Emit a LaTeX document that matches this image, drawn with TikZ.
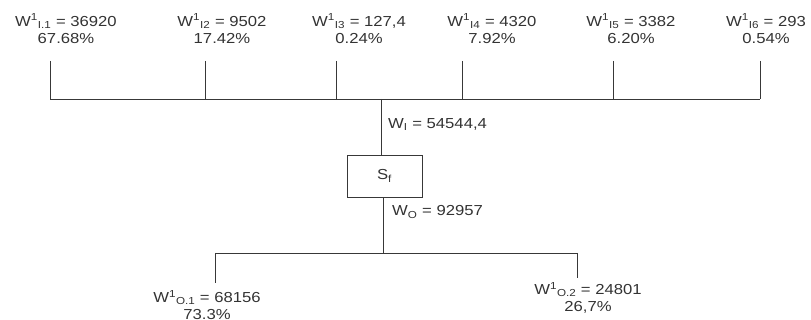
\documentclass[tikz,border=0pt]{standalone}
\usepackage{fontspec}
\setmainfont{Liberation Sans}[FakeStretch=1.15]
\begin{document}
\begin{tikzpicture}[x=1pt,y=-1pt,
  line/.style={draw=black!78, line width=0.9pt},
  lbl/.style={font=\fontsize{14.5}{17}\selectfont, text=black!80, align=center, inner sep=0pt},
  lbll/.style={font=\fontsize{14.5}{17}\selectfont, text=black!80, anchor=west, inner sep=0pt},
  boxst/.style={draw=black!78, line width=0.9pt, minimum width=75pt, minimum height=42pt, inner sep=0pt,
    font=\fontsize{14.5}{17}\selectfont, text=black!80}]
\useasboundingbox (0,0) rectangle (811,320);
% top labels
\node[lbl] (t1) at (66,28.5) {W\textsuperscript{1}\textsubscript{I.1} = 36920\\67.68\%};
\node[lbl] (t2) at (222,28.5) {W\textsuperscript{1}\textsubscript{I2} = 9502\\17.42\%};
\node[lbl] (t3) at (359,28.5) {W\textsuperscript{1}\textsubscript{I3} = 127,4\\0.24\%};
\node[lbl] (t4) at (492,28.5) {W\textsuperscript{1}\textsubscript{I4} = 4320\\7.92\%};
\node[lbl] (t5) at (631,28.5) {W\textsuperscript{1}\textsubscript{I5} = 3382\\6.20\%};
\node[lbl] (t6) at (766,28.5) {W\textsuperscript{1}\textsubscript{I6} = 293\\0.54\%};
% top bus
\coordinate (u1) at (50,61);  \coordinate (b1) at (50,99);
\coordinate (u2) at (205,61); \coordinate (b2) at (205,99);
\coordinate (u3) at (336,61); \coordinate (b3) at (336,99);
\coordinate (u4) at (462,61); \coordinate (b4) at (462,99);
\coordinate (u5) at (613,61); \coordinate (b5) at (613,99);
\coordinate (u6) at (760,61); \coordinate (b6) at (760,99);
\coordinate (bc) at (381,99);
\draw[line] (b1) -- (b6);
\foreach \i in {1,...,6} {\draw[line] (u\i) -- (b\i);}
% box
\node[boxst] (sf) at (384.5,176) {S\textsubscript{f}};
\draw[line] (bc) -- (bc |- sf.north);
\node[lbll] (wi) at (388,124.5) {W\textsubscript{I} = 54544,4};
\coordinate (oc) at (383,253);
\draw[line] (oc |- sf.south) -- (oc);
\node[lbll] (wo) at (392,212) {W\textsubscript{O} = 92957};
% bottom bus
\coordinate (l1) at (215,253); \coordinate (l2) at (215,283);
\coordinate (r1) at (577,253); \coordinate (r2) at (577,278);
\draw[line] (l1) -- (r1);
\draw[line] (l1) -- (l2);
\draw[line] (r1) -- (r2);
\node[lbl] (o1) at (207,305) {W\textsuperscript{1}\textsubscript{O.1} = 68156\\73.3\%};
\node[lbl] (o2) at (588,298) {W\textsuperscript{1}\textsubscript{O.2} = 24801\\26,7\%};
\end{tikzpicture}
\end{document}
